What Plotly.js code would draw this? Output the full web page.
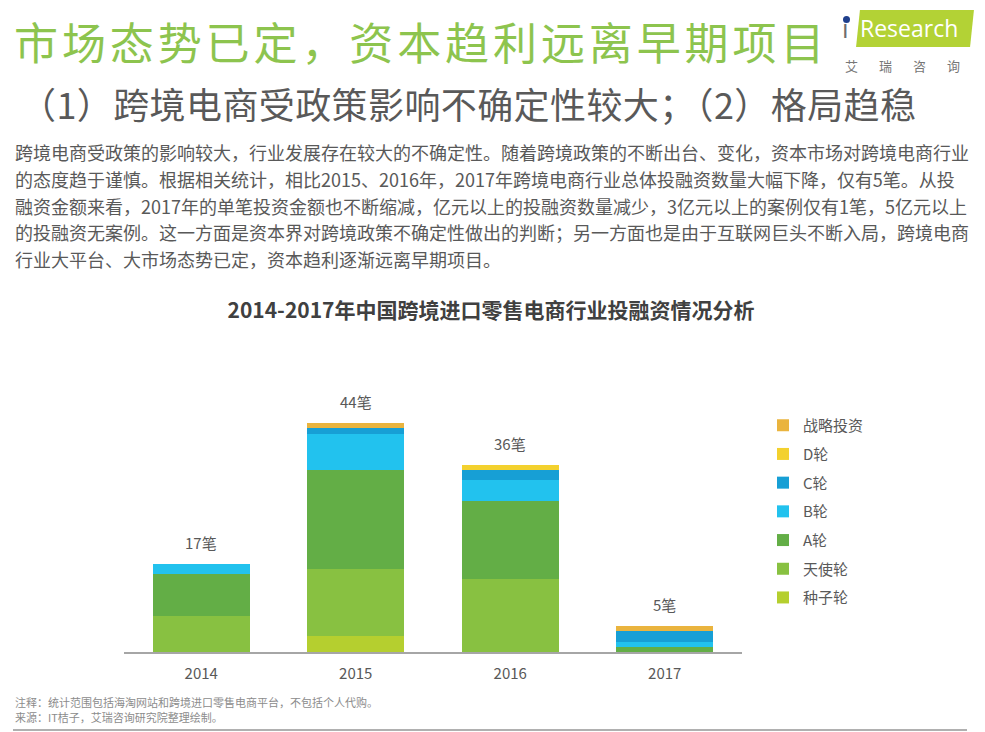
<!DOCTYPE html>
<html>
<head>
<meta charset="utf-8">
<script src="https://cdn.plot.ly/plotly-3.0.1.min.js"></script>
<style>
  html, body { margin:0; padding:0; background:#fff; }
  body { width:985px; height:732px; position:relative; overflow:hidden; font-family:"Noto Sans CJK SC","Noto Sans",sans-serif; }
  #chart { position:absolute; left:0; top:0; width:985px; height:732px; }
  .abs { position:absolute; white-space:nowrap; }
  #h1 { left:14px; top:13px; font-size:44px; line-height:56px; color:#8DC44E; letter-spacing:3.9px; }
  #h2 { left:20px; top:78px; font-size:36px; line-height:50px; color:#595959; letter-spacing:0.4px; }
  #para { left:15px; top:139px; font-size:18px; line-height:26.8px; color:#595959; }
  #note { left:15px; top:695px; font-size:11px; line-height:15px; color:#8c8c8c; }
  #rule { left:13px; top:729px; width:954px; height:2px; background:#b0b0b0; }
  #logo { left:858px; top:10px; width:114px; height:37px; background:#B3D235; transform:skewX(-6deg); }
  #logoText { left:860px; top:13px; font-family:"Open Sans","Noto Sans",sans-serif; font-size:23px; line-height:30px; color:#fff; }
  #logoI { left:842px; top:13px; font-family:"Open Sans","Noto Sans",sans-serif; font-size:26px; line-height:30px; color:#6d6d6d; }
  #logoDot { left:843px; top:16px; width:7px; height:7px; border-radius:4px; background:#1F3F8C; }
  #logoCn { left:845px; top:57px; font-size:13px; line-height:18px; color:#777; letter-spacing:21px; }
</style>
</head>
<body>
<div id="chart"></div>
<div class="abs" id="h1">市场态势已定，资本趋利远离早期项目</div>
<div class="abs" id="h2">（1）跨境电商受政策影响不确定性较大；（2）格局趋稳</div>
<div class="abs" id="para">跨境电商受政策的影响较大，行业发展存在较大的不确定性。随着跨境政策的不断出台、变化，资本市场对跨境电商行业<br>的态度趋于谨慎。根据相关统计，相比2015、2016年，2017年跨境电商行业总体投融资数量大幅下降，仅有5笔。从投<br>融资金额来看，2017年的单笔投资金额也不断缩减，亿元以上的投融资数量减少，3亿元以上的案例仅有1笔，5亿元以上<br>的投融资无案例。这一方面是资本界对跨境政策不确定性做出的判断；另一方面也是由于互联网巨头不断入局，跨境电商<br>行业大平台、大市场态势已定，资本趋利逐渐远离早期项目。</div>
<div class="abs" id="logo"></div>
<div class="abs" id="logoI">ı</div>
<div class="abs" id="logoDot"></div>
<div class="abs" id="logoText">Research</div>
<div class="abs" id="logoCn">艾瑞咨询</div>
<div class="abs" id="note">注释：统计范围包括海淘网站和跨境进口零售电商平台，不包括个人代购。<br>来源：IT桔子，艾瑞咨询研究院整理绘制。</div>
<div class="abs" id="rule"></div>
<script>
// ---- data ----
const years = ["2014", "2015", "2016", "2017"];
const seriesNames = ["种子轮", "天使轮", "A轮", "B轮", "C轮", "D轮", "战略投资"];
const seed      = [0, 3, 0, 0];
const angel     = [7, 13, 14, 0];
const roundA    = [8, 19, 15, 1];
const roundB    = [2, 7, 4, 1];
const roundC    = [0, 1, 2, 2];
const roundD    = [0, 0, 1, 0];
const strategic = [0, 1, 0, 1];
const totals    = [17, 44, 36, 5];
const totalLabels = ["17笔", "44笔", "36笔", "5笔"];
const colors = ["#B5CF2F", "#88C141", "#63AE46", "#22C2EE", "#179FD5", "#F3D12E", "#EAB43E"];

const values = [seed, angel, roundA, roundB, roundC, roundD, strategic];
const traces = values.map((v, i) => ({
  type: "bar",
  name: seriesNames[i],
  x: years.slice(),
  y: v.slice(),
  legendgroup: "g" + i,
  legendrank: 1000 - i,
  marker: { color: colors[i], line: { width: 0 } },
  hoverinfo: "x+y+name"
}));

const annotations = years.map((yr, i) => ({
  x: i, y: totals[i], xref: "x", yref: "y",
  text: totalLabels[i], showarrow: false,
  yanchor: "bottom", yshift: 9,
  font: { size: 15, color: "#595959", family: "Noto Sans CJK SC" }
}));

const layout = {
  width: 985, height: 732,
  paper_bgcolor: "rgba(0,0,0,0)", plot_bgcolor: "rgba(0,0,0,0)",
  margin: { l: 124, r: 243, t: 380, b: 80, pad: 0 },
  barmode: "stack",
  bargap: 0.37,
  font: { family: "Noto Sans CJK SC, Noto Sans, sans-serif", color: "#595959" },
  title: {
    text: "<b>2014-2017年中国跨境进口零售电商行业投融资情况分析</b>",
    font: { size: 21, color: "#404040", family: "Noto Sans CJK SC" },
    xref: "container", x: 491 / 985, xanchor: "center",
    yref: "container", y: 1 - 311 / 732, yanchor: "middle"
  },
  xaxis: {
    type: "category", categoryorder: "array", categoryarray: years,
    range: [-0.5, 3.5],
    showline: true, linecolor: "#A6A6A6", linewidth: 1.5,
    ticks: "outside", ticklen: 7, tickcolor: "rgba(0,0,0,0)",
    showgrid: false, zeroline: false,
    tickfont: { size: 15, color: "#595959" }
  },
  yaxis: { range: [0, 52.3], visible: false, showgrid: false, zeroline: false },
  showlegend: true,
  legend: {
    traceorder: "grouped", orientation: "v",
    x: (763 - 124) / 618, xanchor: "left", y: 1 - (409 - 380) / 272, yanchor: "top",
    font: { size: 15, color: "#595959" },
    tracegroupgap: 6.2, itemwidth: 30, bgcolor: "rgba(0,0,0,0)"
  },
  annotations: annotations
};

Plotly.newPlot("chart", traces, layout, { displayModeBar: false, staticPlot: true });
</script>
</body>
</html>
